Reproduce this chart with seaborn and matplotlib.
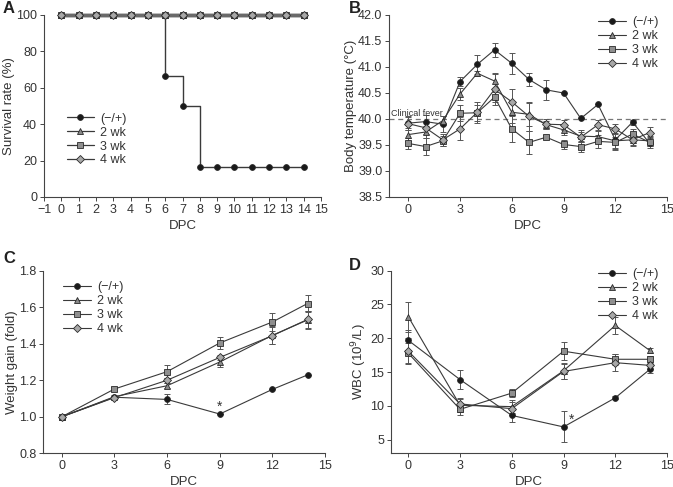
#!/usr/bin/env python3
#===============================================================================
# plot survival, temperature, weight and WBC panels
#===============================================================================

# Imports ======================================================================

import matplotlib
matplotlib.use('Agg')
import matplotlib.pyplot as plt
import pandas as pd
import seaborn as sns

# Data =========================================================================

groups = ['(\u2212/+)', '2 wk', '3 wk', '4 wk']

days_a = list(range(15))
surv_ctrl = [100, 100, 100, 100, 100, 100, 66.7, 50, 16.7, 16.7, 16.7, 16.7, 16.7, 16.7, 16.7]
surv_2wk = [100] * 15
surv_3wk = [100] * 15
surv_4wk = [100] * 15

days_b = list(range(15))
temp_ctrl = [39.92, 39.95, 39.90, 40.72, 41.05, 41.33, 41.07, 40.76, 40.56, 40.50, 40.01, 40.28, 39.60, 39.94, 39.53]
temp_2wk = [39.70, 39.75, 39.97, 40.48, 40.88, 40.73, 40.13, 40.09, 39.89, 39.79, 39.67, 39.66, 39.58, 39.60, 39.58]
temp_3wk = [39.53, 39.47, 39.58, 40.11, 40.12, 40.42, 39.81, 39.55, 39.65, 39.51, 39.47, 39.57, 39.55, 39.71, 39.55]
temp_4wk = [39.91, 39.83, 39.60, 39.81, 40.13, 40.57, 40.33, 40.05, 39.90, 39.89, 39.65, 39.89, 39.81, 39.60, 39.74]
temp_ctrl_err = [0.14, 0.13, 0.15, 0.08, 0.19, 0.14, 0.2, 0.12, 0.19, 0.0, 0.0, 0.0, 0.2, 0.05, 0.05]
temp_2wk_err = [0.12, 0.12, 0.08, 0.12, 0.05, 0.15, 0.2, 0.22, 0.08, 0.1, 0.12, 0.1, 0.15, 0.12, 0.1]
temp_3wk_err = [0.1, 0.17, 0.1, 0.15, 0.15, 0.1, 0.25, 0.22, 0.04, 0.08, 0.1, 0.12, 0.1, 0.1, 0.1]
temp_4wk_err = [0.12, 0.12, 0.12, 0.22, 0.2, 0.3, 0.25, 0.28, 0.1, 0.1, 0.1, 0.1, 0.1, 0.1, 0.1]

days_c = [0, 3, 6, 9, 12, 14]
wt_ctrl = [1.0, 1.107, 1.095, 1.015, 1.15, 1.229]
wt_2wk = [1.0, 1.11, 1.17, 1.30, 1.446, 1.53]
wt_3wk = [1.0, 1.152, 1.247, 1.404, 1.519, 1.62]
wt_4wk = [1.0, 1.105, 1.20, 1.325, 1.444, 1.533]
wt_ctrl_err = [0.0, 0.0, 0.027, 0.0, 0.0, 0.0]
wt_2wk_err = [0.0, 0.01, 0.015, 0.03, 0.05, 0.05]
wt_3wk_err = [0.0, 0.01, 0.035, 0.035, 0.05, 0.045]
wt_4wk_err = [0.0, 0.01, 0.015, 0.015, 0.045, 0.045]

days_d = [0, 3, 6, 9, 12, 14]
wbc_ctrl = [19.7, 13.9, 8.6, 6.9, 11.2, 15.4]
wbc_2wk = [23.2, 10.1, 9.9, 15.2, 21.9, 18.2]
wbc_3wk = [17.8, 9.5, 11.9, 18.1, 16.9, 16.9]
wbc_4wk = [18.1, 10.3, 9.6, 15.1, 16.4, 16.0]
wbc_ctrl_err = [1.6, 1.4, 0.9, 2.3, 0.2, 0.5]
wbc_2wk_err = [2.2, 1.0, 1.0, 1.2, 1.3, 0.3]
wbc_3wk_err = [1.5, 0.8, 0.6, 1.3, 0.8, 0.5]
wbc_4wk_err = [1.9, 0.9, 1.0, 1.1, 1.3, 0.5]

# Style ========================================================================

markers = ['o', '^', 's', 'D']
face_colors = ['#1a1a1a', '#8a8a8a', '#8f8f8f', '#a8a8a8']
marker_sizes = [4.2, 4.2, 4.2, 3.6]
line_color = '#3a3a3a'
text_color = '#333333'


# Functions ====================================================================

def draw_series(ax, x, ys, errs=None, drawstyle='default', lw=0.8):
    for i, (name, y) in enumerate(zip(groups, ys)):
        df = pd.DataFrame({'x': x, 'y': y})
        sns.lineplot(
            data=df, x='x', y='y', ax=ax, label=name,
            color=line_color, lw=lw, marker=markers[i],
            markersize=marker_sizes[i], markerfacecolor=face_colors[i],
            markeredgecolor='#2a2a2a', markeredgewidth=0.6,
            drawstyle=drawstyle, zorder=3 + i, clip_on=False
        )
        if errs is not None:
            ax.errorbar(
                x, y, yerr=errs[i], fmt='none', ecolor='#555555',
                elinewidth=0.7, capsize=2.2, capthick=0.7, zorder=2
            )


def style_axis(ax, ylabel):
    sns.despine(ax=ax)
    for s in ('left', 'bottom'):
        ax.spines[s].set_color('#444444')
        ax.spines[s].set_linewidth(0.8)
    ax.tick_params(direction='out', length=3, width=0.7, colors='#444444',
                   labelsize=9, labelcolor=text_color, pad=2)
    ax.set_xlabel('DPC', fontsize=9.5, color=text_color, labelpad=3)
    ax.set_ylabel(ylabel, fontsize=9.5, color=text_color, labelpad=1)


def make_legend(ax, **kw):
    leg = ax.legend(frameon=False, fontsize=9, handlelength=2.2,
                    handletextpad=0.5, labelspacing=0.15, borderaxespad=0.3,
                    **kw)
    for t in leg.get_texts():
        t.set_color(text_color)


def main():
    sns.set_theme(style='ticks')
    plt.rcParams['font.family'] = ['Liberation Sans', 'DejaVu Sans']
    fig = plt.figure(figsize=(6.73, 4.87), dpi=100)

    # panel letters
    for letter, (fx, fy) in zip('ABCD', [(3, 1), (349, 1), (3, 251), (349, 258)]):
        fig.text(fx / 673, 1 - fy / 487, letter, fontsize=12, fontweight='bold',
                 color='#222222', ha='left', va='top')

    # A: survival
    ax = fig.add_axes([0.0654, 0.5955, 0.4116, 0.3737])
    draw_series(ax, days_a, [surv_ctrl, surv_2wk, surv_3wk, surv_4wk],
                drawstyle='steps-post', lw=1.0)
    ax.set_xlim(-1, 15)
    ax.set_xticks(range(-1, 16))
    ax.set_xticklabels(['\u22121'] + [str(i) for i in range(16)])
    ax.set_ylim(0, 100)
    ax.set_yticks(range(0, 101, 20))
    style_axis(ax, 'Survival rate (%)')
    make_legend(ax, loc='lower left', bbox_to_anchor=(0.05, 0.12))
    for ln in ax.get_lines()[1:]:
        ln.set_linewidth(2.4)
        ln.set_color('#6a6a6a')
    for ln in ax.get_legend().get_lines():
        ln.set_linewidth(0.9)
        ln.set_color(line_color)

    # B: body temperature
    ax = fig.add_axes([0.5785, 0.5955, 0.4126, 0.3737])
    ax.axhline(40.0, color='#777777', lw=0.9, ls=(0, (4, 3)), zorder=1)
    draw_series(ax, days_b, [temp_ctrl, temp_2wk, temp_3wk, temp_4wk],
                errs=[temp_ctrl_err, temp_2wk_err, temp_3wk_err, temp_4wk_err])
    ax.text(-1.0, 40.06, 'Clinical fever', fontsize=6.5, color=text_color)
    ax.set_xlim(-1.1, 15)
    ax.set_xticks(range(0, 16, 3))
    ax.set_ylim(38.5, 42.0)
    ax.set_yticks([38.5 + 0.5 * i for i in range(8)])
    ax.set_yticklabels(['%.1f' % (38.5 + 0.5 * i) for i in range(8)])
    style_axis(ax, 'Body temperature (\u00b0C)')
    make_legend(ax, loc='upper right', bbox_to_anchor=(1.0, 1.04))

    # C: weight gain
    ax = fig.add_axes([0.0644, 0.0692, 0.4186, 0.375])
    draw_series(ax, days_c, [wt_ctrl, wt_2wk, wt_3wk, wt_4wk],
                errs=[wt_ctrl_err, wt_2wk_err, wt_3wk_err, wt_4wk_err])
    ax.text(9, 1.035, '*', fontsize=10, color=text_color, ha='center')
    ax.set_xlim(-1.05, 15)
    ax.set_xticks(range(0, 16, 3))
    ax.set_ylim(0.8, 1.8)
    ax.set_yticks([0.8, 1.0, 1.2, 1.4, 1.6, 1.8])
    ax.set_yticklabels(['0.8', '1.0', '1.2', '1.4', '1.6', '1.8'])
    style_axis(ax, 'Weight gain (fold)')
    make_legend(ax, loc='upper left', bbox_to_anchor=(0.04, 0.99))

    # D: WBC
    ax = fig.add_axes([0.581, 0.0692, 0.4101, 0.375])
    draw_series(ax, days_d, [wbc_ctrl, wbc_2wk, wbc_3wk, wbc_4wk],
                errs=[wbc_ctrl_err, wbc_2wk_err, wbc_3wk_err, wbc_4wk_err])
    ax.text(9.45, 7.4, '*', fontsize=10, color=text_color, ha='center')
    ax.set_xlim(-1.0, 15)
    ax.set_xticks(range(0, 16, 3))
    ax.set_ylim(3, 30)
    ax.set_yticks(range(5, 31, 5))
    style_axis(ax, 'WBC (10$^{9}$/L)')
    make_legend(ax, loc='upper right', bbox_to_anchor=(1.0, 1.06))

    fig.savefig('out.png', dpi=100)


# Execute ======================================================================

if __name__ == '__main__':
    main()
